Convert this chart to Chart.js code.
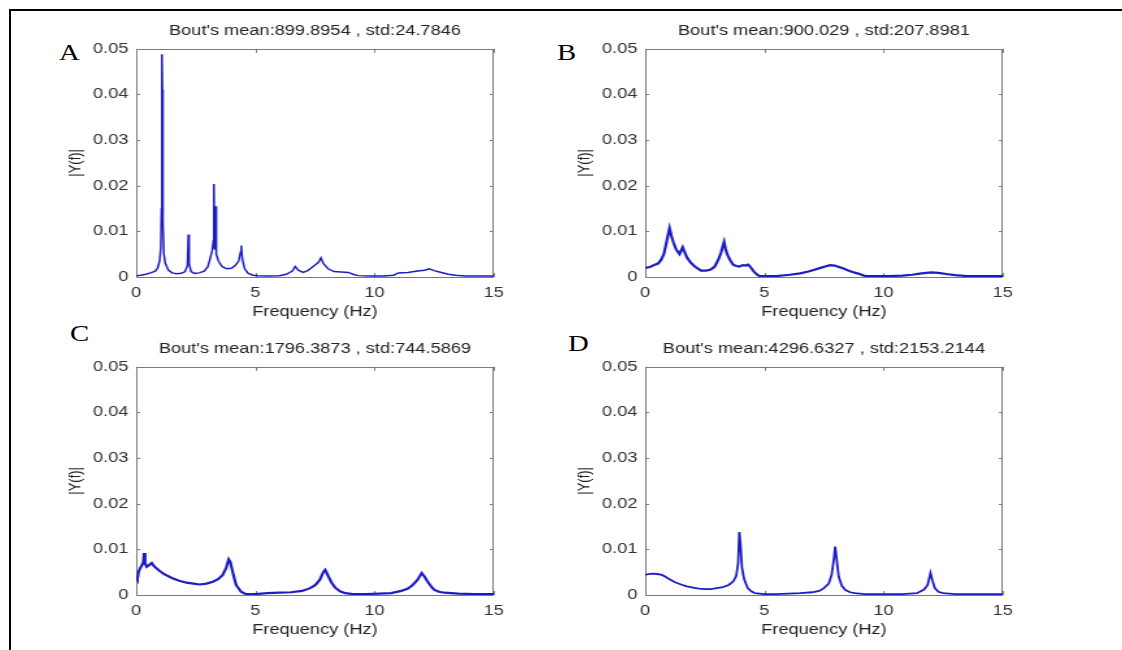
<!DOCTYPE html>
<html>
<head>
<meta charset="utf-8">
<script src="https://cdn.jsdelivr.net/npm/chart.js@4/dist/chart.umd.min.js"></script>
<style>
  body { margin: 0; background: #fff; width: 1122px; height: 650px; overflow: hidden; position: relative; }
  .frame { position: absolute; left: 9px; top: 9px; width: 1200px; height: 700px; border-top: 2px solid #000; border-left: 2px solid #000; }
  canvas { position: absolute; }
  .tag { position: absolute; font-family: "Liberation Serif", "Times New Roman", serif; font-size: 23px; line-height: 23px; color: #000; transform: scaleX(1.25); transform-origin: left top; }
</style>
</head>
<body>
<div class="frame"></div>
<div class="tag" style="left:59px;top:41px">A</div>
<div class="tag" style="left:557px;top:41px">B</div>
<div class="tag" style="left:70px;top:322px">C</div>
<div class="tag" style="left:568px;top:332px">D</div>

<canvas id="cA" width="370" height="320" style="left:40px;top:12px;width:481px;height:320px"></canvas>
<canvas id="cB" width="370" height="320" style="left:549px;top:12px;width:481px;height:320px"></canvas>
<canvas id="cC" width="370" height="320" style="left:40px;top:330px;width:481px;height:320px"></canvas>
<canvas id="cD" width="370" height="320" style="left:549px;top:330px;width:481px;height:320px"></canvas>

<script>
//------------------------------------------------------------------
// data (frequency in Hz, |Y(f)|)

var titles = [
    "Bout's mean:899.8954 , std:24.7846",
    "Bout's mean:900.029 , std:207.8981",
    "Bout's mean:1796.3873 , std:744.5869",
    "Bout's mean:4296.6327 , std:2153.2144"
];

var xTicks = [0, 5, 10, 15];
var yTicks = [0, 0.01, 0.02, 0.03, 0.04, 0.05];

var freqA = [0.00,0.20,0.40,0.60,0.80,0.90,0.98,1.03,1.06,1.08,1.10,1.12,1.16,1.22,1.35,1.50,1.70,1.90,2.05,2.15,2.19,2.22,2.30,2.45,2.65,2.85,3.00,3.10,3.18,3.24,3.26,3.29,3.33,3.36,3.45,3.60,3.80,4.00,4.15,4.30,4.38,4.41,4.45,4.55,4.70,4.90,5.10,5.50,6.00,6.30,6.55,6.67,6.80,7.00,7.20,7.45,7.65,7.75,7.85,8.05,8.30,8.60,8.90,9.10,9.30,9.80,10.40,10.80,11.00,11.40,11.80,12.10,12.30,12.50,12.80,13.10,13.40,13.80,14.50,15.00];
var magA  = [0.0003,0.0004,0.0006,0.0009,0.0013,0.0020,0.0035,0.0064,0.0150,0.0488,0.0410,0.0120,0.0050,0.0030,0.0015,0.0009,0.0007,0.0008,0.0012,0.0025,0.0093,0.0030,0.0012,0.0008,0.0009,0.0013,0.0022,0.0040,0.0056,0.0080,0.0204,0.0060,0.0155,0.0050,0.0035,0.0023,0.0018,0.0019,0.0025,0.0035,0.0055,0.0069,0.0040,0.0018,0.0008,0.0004,0.0003,0.0002,0.0003,0.0006,0.0013,0.0023,0.0015,0.0010,0.0014,0.0024,0.0032,0.0042,0.0030,0.0018,0.0012,0.0011,0.0010,0.0006,0.0003,0.0002,0.0002,0.0004,0.0009,0.0010,0.0013,0.0015,0.0018,0.0014,0.0010,0.0006,0.0004,0.0002,0.0002,0.0002];

var freqB = [0.00,0.20,0.41,0.55,0.67,0.78,0.86,0.95,1.02,1.10,1.18,1.30,1.44,1.57,1.65,1.76,1.90,2.08,2.34,2.55,2.73,2.90,2.99,3.10,3.18,3.26,3.31,3.37,3.44,3.55,3.69,3.82,3.95,4.10,4.21,4.32,4.40,4.50,4.59,4.70,4.79,5.00,5.50,6.07,6.50,6.85,7.10,7.36,7.55,7.75,7.95,8.13,8.35,8.52,8.70,8.90,9.23,9.60,10.20,10.80,11.20,11.60,12.00,12.30,12.70,13.00,13.50,14.00,15.00];
var magB  = [0.0020,0.0022,0.0027,0.0030,0.0038,0.0050,0.0068,0.0090,0.0107,0.0090,0.0076,0.0060,0.0050,0.0065,0.0055,0.0042,0.0032,0.0023,0.0014,0.0014,0.0016,0.0022,0.0030,0.0042,0.0053,0.0068,0.0077,0.0062,0.0050,0.0038,0.0027,0.0024,0.0023,0.0026,0.0025,0.0027,0.0023,0.0016,0.0010,0.0005,0.0002,0.0002,0.0002,0.0005,0.0008,0.0012,0.0016,0.0020,0.0023,0.0026,0.0025,0.0022,0.0018,0.0014,0.0011,0.0008,0.0002,0.0002,0.0002,0.0003,0.0005,0.0008,0.0010,0.0009,0.0006,0.0004,0.0002,0.0002,0.0002];

var freqC = [0.00,0.05,0.10,0.18,0.24,0.30,0.33,0.37,0.44,0.55,0.65,0.75,0.86,1.00,1.14,1.35,1.55,1.80,2.11,2.40,2.66,2.95,3.22,3.45,3.63,3.78,3.88,3.95,4.05,4.19,4.40,4.60,5.00,5.50,6.00,6.50,6.96,7.30,7.52,7.70,7.86,7.93,8.07,8.20,8.35,8.55,8.77,9.10,9.60,10.20,10.70,11.12,11.40,11.60,11.80,11.98,12.10,12.23,12.40,12.51,12.70,12.93,13.50,14.20,15.00];
var magC  = [0.0040,0.0035,0.0051,0.0060,0.0065,0.0072,0.0092,0.0070,0.0062,0.0066,0.0070,0.0063,0.0058,0.0052,0.0047,0.0041,0.0036,0.0031,0.0027,0.0025,0.0023,0.0025,0.0029,0.0035,0.0044,0.0060,0.0078,0.0072,0.0050,0.0022,0.0007,0.0002,0.0002,0.0004,0.0005,0.0006,0.0009,0.0015,0.0022,0.0033,0.0051,0.0055,0.0040,0.0027,0.0016,0.0008,0.0004,0.0002,0.0002,0.0003,0.0004,0.0009,0.0014,0.0022,0.0033,0.0048,0.0040,0.0029,0.0017,0.0011,0.0007,0.0005,0.0003,0.0002,0.0002];

var freqD = [0.00,0.15,0.30,0.50,0.70,0.85,1.00,1.25,1.50,1.75,2.00,2.25,2.50,2.75,3.00,3.25,3.50,3.70,3.82,3.90,3.95,4.00,4.06,4.15,4.30,4.45,4.60,5.00,5.50,6.00,6.50,7.00,7.30,7.50,7.70,7.82,7.92,7.97,8.03,8.12,8.25,8.40,8.60,8.80,9.20,10.00,10.80,11.40,11.70,11.85,11.97,12.05,12.15,12.30,12.50,13.00,14.00,15.00];
var magD  = [0.0044,0.0046,0.0047,0.0046,0.0044,0.0040,0.0035,0.0028,0.0023,0.0019,0.0016,0.0014,0.0013,0.0013,0.0015,0.0017,0.0022,0.0030,0.0042,0.0070,0.0138,0.0110,0.0060,0.0035,0.0015,0.0008,0.0004,0.0002,0.0002,0.0003,0.0004,0.0006,0.0009,0.0015,0.0025,0.0044,0.0080,0.0106,0.0080,0.0040,0.0020,0.0011,0.0006,0.0004,0.0002,0.0002,0.0002,0.0004,0.0012,0.0022,0.0048,0.0032,0.0015,0.0007,0.0004,0.0002,0.0002,0.0002];

//------------------------------------------------------------------

Chart.defaults.font.family = "'Liberation Sans', Arial, sans-serif";
Chart.defaults.color = "#333";

// matlab style box with inward ticks
var box_plugin = {
    id: 'matlab_box',
    beforeDatasetsDraw: function(chart){
        var ctx = chart.ctx;
        var a = chart.chartArea;
        var sx = chart.scales.x, sy = chart.scales.y;
        ctx.save();
        ctx.strokeStyle = '#7a7a7a';
        ctx.lineWidth = 1;
        ctx.strokeRect(Math.round(a.left)+0.5, Math.round(a.top)+0.5, Math.round(a.width)-1, Math.round(a.height));
        ctx.beginPath();
        for (let i = 0; i < xTicks.length; i++) {
            var px = Math.round(sx.getPixelForValue(xTicks[i])) + 0.5;
            ctx.moveTo(px, a.bottom); ctx.lineTo(px, a.bottom - 4);
            ctx.moveTo(px, a.top); ctx.lineTo(px, a.top + 4);
        }
        for (let i = 0; i < yTicks.length; i++) {
            var py = Math.round(sy.getPixelForValue(yTicks[i])) + 0.5;
            ctx.moveTo(a.left, py); ctx.lineTo(a.left + 3, py);
            ctx.moveTo(a.right, py); ctx.lineTo(a.right - 3, py);
        }
        ctx.stroke();
        ctx.restore();
    }
};

function make_panel(id, freq, mag, title, lw){

    var pts = [];
    for (let i = 0; i < freq.length; i++) pts.push({x: freq[i], y: mag[i]});

    return new Chart(document.getElementById(id), {
        type: 'line',
        data: {
            datasets: [{
                data: pts,
                borderColor: 'rgb(28,28,196)',
                borderWidth: lw,
                pointRadius: 0,
                tension: 0,
                fill: false
            }]
        },
        options: {
            responsive: false,
            animation: false,
            devicePixelRatio: 1,
            layout: { padding: { left: 20, right: 21, top: 0, bottom: 11 } },
            plugins: {
                legend: { display: false },
                tooltip: { enabled: false },
                title: {
                    display: true,
                    fullSize: false,
                    text: title,
                    color: '#222',
                    font: { size: 14, weight: 'normal' },
                    padding: { top: 11, bottom: 9 }
                }
            },
            scales: {
                x: {
                    type: 'linear',
                    min: 0, max: 15,
                    grid: { display: false, drawTicks: false },
                    border: { display: false },
                    afterBuildTicks: function(s){ s.ticks = xTicks.map(v => ({value: v})); },
                    ticks: { font: { size: 14 }, padding: 8, maxRotation: 0, autoSkip: false },
                    title: { display: true, text: 'Frequency (Hz)', color: '#222', font: { size: 14 }, padding: 0 },
                    afterFit: function(s){ s.height = 44; }
                },
                y: {
                    type: 'linear',
                    min: 0, max: 0.05,
                    grid: { display: false, drawTicks: false },
                    border: { display: false },
                    afterBuildTicks: function(s){ s.ticks = yTicks.map(v => ({value: v})); },
                    ticks: {
                        font: { size: 14 }, padding: 6, autoSkip: false,
                        callback: function(v){ return v === 0 ? '0' : v.toFixed(2); }
                    },
                    title: { display: true, text: '|Y(f)|', color: '#222', font: { size: 13 }, padding: 0 },
                    afterFit: function(s){ s.width = 54; }
                }
            }
        },
        plugins: [box_plugin]
    });
}

make_panel('cA', freqA, magA, titles[0], 1.5);
make_panel('cB', freqB, magB, titles[1], 2.2);
make_panel('cC', freqC, magC, titles[2], 2.2);
make_panel('cD', freqD, magD, titles[3], 1.8);
</script>
</body>
</html>
